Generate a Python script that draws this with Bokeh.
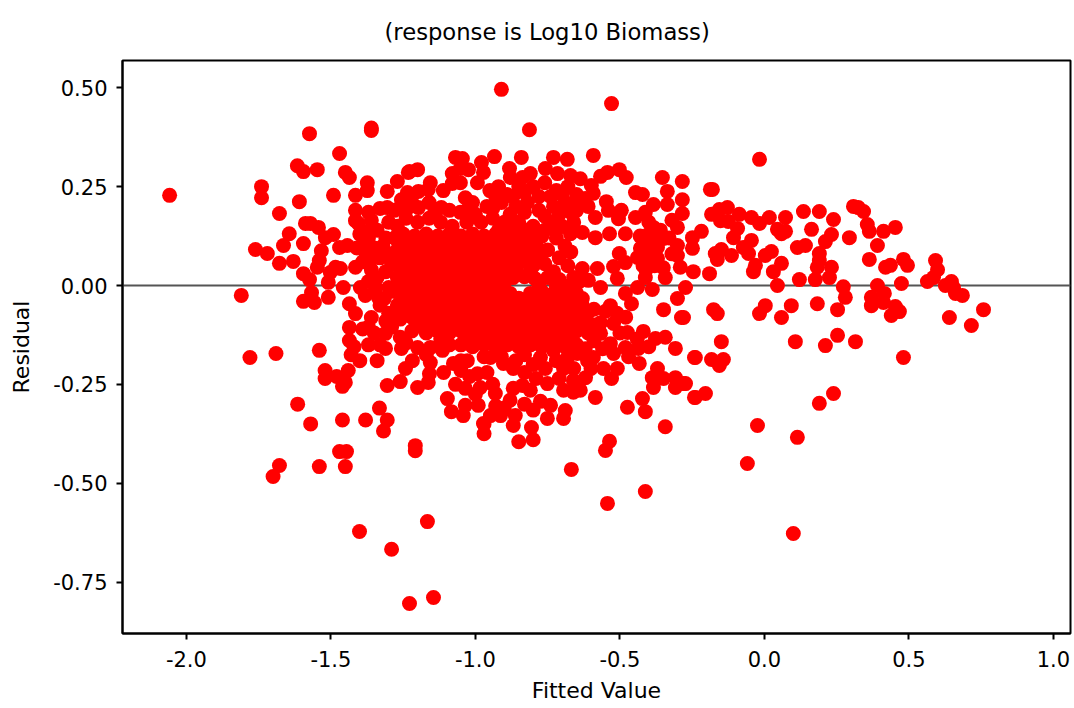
from bokeh.plotting import figure
from bokeh.models import FixedTicker, Span, Range1d
from bokeh.embed import file_html
from bokeh.resources import INLINE

x_ticks = [-2.0, -1.5, -1.0, -0.5, 0.0, 0.5, 1.0]
x_labels = ["-2.0", "-1.5", "-1.0", "-0.5", "0.0", "0.5", "1.0"]
y_ticks = [-0.75, -0.50, -0.25, 0.0, 0.25, 0.50]
y_labels = ["-0.75", "-0.50", "-0.25", "0.00", "0.25", "0.50"]

left_pts = [
(-2.058,0.228),(-1.74,0.25),(-1.74,0.222),(-1.609,0.212),(-1.678,0.182),(-1.574,0.384),(-1.36,0.392),(-1.36,0.398),
(-1.47,0.334),(-1.616,0.303),(-1.595,0.288),(-1.547,0.293),(-1.45,0.286),(-1.436,0.273),(-1.374,0.26),(-1.374,0.24),
(-1.491,0.228),(-1.415,0.228),(-1.27,0.263),(-1.305,0.238),(-1.228,0.288),(-1.2,0.293),(-1.588,0.157),(-1.571,0.157),
(-1.543,0.147),(-1.644,0.131),(-1.595,0.106),(-1.664,0.101),(-1.761,0.091),(-1.72,0.081),(-1.678,0.056),(-1.63,0.061),
(-1.595,0.03),(-1.574,0.015),(-1.81,-0.025),(-1.567,-0.018),(-1.595,-0.04),(-1.557,-0.043),(-1.509,-0.03),(-1.457,-0.005),
(-1.436,-0.046),(-1.415,-0.071),(-1.36,-0.081),(-1.436,-0.106),(-1.436,-0.139),(-1.54,-0.164),(-1.533,0.088),(-1.54,0.063),
(-1.547,0.046),(-1.519,0.121),(-1.491,0.129),(-1.47,0.096),(-1.443,0.101),(-1.484,0.046),(-1.467,0.043),(-1.502,0.033),
(-1.509,0.008),(-1.415,0.19),(-1.415,0.164),(-1.405,0.157),(-1.415,0.046),(-1.398,-0.005),(-1.381,-0.025),(-1.336,-0.03),
(-1.78,-0.182),(-1.69,-0.172),(-1.615,-0.30),(-1.57,-0.35),(-1.52,-0.215),(-1.52,-0.235),(-1.48,-0.23),(-1.45,-0.245),
(-1.46,-0.255),(-1.44,-0.215),(-1.43,-0.175),(-1.46,-0.34),(-1.38,-0.34),(-1.332,-0.31),(-1.305,-0.34),(-1.318,-0.368),
(-1.47,-0.42),(-1.446,-0.42),(-1.45,-0.458),(-1.54,-0.458),(-1.678,-0.455),(-1.70,-0.483),(-1.208,-0.405),(-1.208,-0.418),
(-1.401,-0.622),(-1.166,-0.597),(-1.29,-0.667),(-1.228,-0.804),(-1.145,-0.789),
(-1.40,-0.19),(-1.37,-0.15),(-1.34,-0.19),(-1.42,-0.155),(-1.39,-0.11),(-1.35,-0.12),(-1.33,-0.15),
(-1.40,0.13),(-1.37,0.12),(-1.34,0.14),(-1.31,0.12),(-1.38,0.085),(-1.35,0.095),(-1.41,0.095),(-1.33,0.07),
(-1.39,0.06),(-1.36,0.04),(-1.30,0.08),(-1.34,0.02),(-1.31,0.035),(-1.37,0.01),(-1.30,-0.005),(-1.33,-0.05),(-1.30,-0.07),
(-1.36,0.165),(-1.33,0.195),(-1.30,0.16),(-1.28,0.19),
(-1.385,0.105),(-1.355,0.07),(-1.32,0.10),(-1.29,0.055),(-1.345,-0.005),(-1.31,-0.09),(-1.29,-0.105),(-1.37,-0.105),(-1.395,0.14),(-1.37,0.185),(-1.355,0.145),
]
top_pts = [
(-1.069,0.324),(-1.045,0.321),(-0.934,0.326),(-0.841,0.324),(-0.73,0.324),(-0.682,0.319),(-0.592,0.329),(-1.232,0.286),
(-1.305,0.197),(-1.253,0.195),(-1.256,0.217),(-1.235,0.235),(-1.197,0.238),(-1.156,0.26),(-1.163,0.243),(-1.111,0.24),
(-1.08,0.283),(-1.052,0.296),(-1.024,0.293),(-1.08,0.258),(-1.052,0.26),(-0.979,0.311),(-0.972,0.286),(-0.993,0.26),
(-1.035,0.222),(-1.052,0.185),(-1.118,0.197),(-1.197,0.197),(-0.882,0.296),(-0.879,0.273),(-0.837,0.273),(-0.81,0.283),
(-0.758,0.296),(-0.716,0.283),(-0.671,0.278),(-0.637,0.27),(-0.599,0.253),(-0.592,0.233),(-0.567,0.276),(-0.543,0.286),
(-0.502,0.293),(-0.478,0.273),(-0.353,0.273),(-0.284,0.263),(-0.336,0.238),(-0.284,0.217),(-0.446,0.235),(-0.422,0.23),
(-0.384,0.205),(-0.336,0.205),(-0.284,0.182),(-0.547,0.212),(-0.54,0.19),(-0.495,0.19),(-0.505,0.169),(-0.446,0.172),
(-0.412,0.185),(-0.585,0.172),(-0.585,0.121),(-0.536,0.131),(-0.481,0.131),(-0.63,0.134),(-0.671,0.131),(-0.384,0.147),
(-0.349,0.119),(-0.429,0.094),(-0.37,0.096),(-0.439,0.071),(-0.37,0.068),(-0.301,0.101),(-0.249,0.094),(-0.301,0.147),
(-0.249,0.121),(-0.301,0.076),(-0.291,0.046),(-0.246,0.035),(-0.343,0.02),(-0.412,0.02),(-0.522,0.048),(-0.502,0.081),
(-0.481,0.058),(-0.509,0.018),(-0.63,0.043),(-0.578,0.043),(-0.439,-0.005),(-0.388,-0.01),(-0.273,-0.005),(-0.481,-0.02),
(-0.46,-0.046),(-0.301,-0.033),(-0.349,-0.061),(-0.287,-0.081),(-0.91,0.496),(-0.529,0.46),(-0.813,0.394),
(-0.40,0.13),(-0.41,0.10),(-0.385,0.12),(-0.43,0.125),(-0.40,0.07),(-0.42,0.05),(-0.38,0.08),(-0.33,0.12),(-0.32,0.165),
(-0.95,0.24),(-0.92,0.25),(-0.89,0.23),(-0.85,0.25),(-0.80,0.25),(-0.76,0.26),(-0.72,0.24),(-0.68,0.25),(-0.65,0.23),(-0.62,0.22),
(-0.96,0.20),(-0.91,0.21),(-0.86,0.20),(-0.82,0.21),(-0.78,0.19),(-0.73,0.20),(-0.69,0.21),(-0.65,0.19),(-0.61,0.20),
(-0.98,0.16),(-0.94,0.17),(-0.90,0.16),(-0.85,0.16),(-0.80,0.15),(-0.74,0.16),(-0.70,0.15),(-0.66,0.16),
(-0.72,0.12),(-0.69,0.10),(-0.67,0.085),(-0.71,0.07),(-0.68,0.05),(-0.66,0.02),(-0.64,0.01),
(-0.93,0.225),(-0.87,0.225),(-0.83,0.235),(-0.78,0.225),(-0.74,0.225),(-0.70,0.23),(-0.66,0.21),(-0.63,0.205),
(-0.94,0.195),(-0.88,0.18),(-0.83,0.185),(-0.76,0.175),(-0.71,0.18),(-0.67,0.185),(-0.92,0.14),(-0.87,0.145),(-0.82,0.14),(-0.76,0.14),(-0.72,0.14),
(-1.01,0.21),(-1.0,0.18),(-1.03,0.19),(-1.09,0.19),(-1.16,0.21),(-1.22,0.21),(-1.24,0.19),(-1.14,0.19),
(-0.40,0.16),(-0.36,0.14),(-0.41,0.04),(-0.38,0.05),(-0.35,0.045),(-0.32,0.08),
]
core_pts = [
(-1.27,0.15),(-1.24,0.17),(-1.20,0.16),(-1.16,0.17),(-1.12,0.16),(-1.08,0.15),(-1.03,0.16),
(-1.28,0.12),(-1.25,0.13),(-1.21,0.125),(-1.17,0.13),(-1.13,0.125),(-1.09,0.13),(-1.05,0.125),(-1.01,0.13),(-0.97,0.125),(-0.93,0.13),(-0.89,0.125),(-0.85,0.13),(-0.81,0.12),(-0.77,0.125),
(-1.27,0.09),(-1.23,0.095),(-1.19,0.09),(-1.15,0.095),(-1.11,0.09),(-1.07,0.095),(-1.03,0.09),(-0.99,0.095),(-0.95,0.09),(-0.91,0.095),(-0.87,0.09),(-0.83,0.095),(-0.79,0.085),(-0.75,0.09),
(-1.28,0.055),(-1.24,0.06),(-1.20,0.055),(-1.16,0.06),(-1.12,0.055),(-1.08,0.06),(-1.04,0.055),(-1.00,0.06),(-0.96,0.055),(-0.92,0.06),(-0.88,0.055),(-0.84,0.06),(-0.80,0.05),(-0.76,0.055),
(-1.27,0.02),(-1.23,0.025),(-1.19,0.02),(-1.15,0.025),(-1.11,0.02),(-1.07,0.025),(-1.03,0.02),(-0.99,0.025),(-0.95,0.02),(-0.91,0.025),(-0.87,0.02),(-0.75,0.02),(-0.71,0.015),
(-0.83,0.022),(-0.795,0.018),(-0.81,0.035),
(-1.28,-0.015),(-1.24,-0.01),(-1.20,-0.015),(-1.16,-0.01),(-1.12,-0.015),(-1.08,-0.01),(-1.04,-0.015),(-1.00,-0.01),(-0.96,-0.015),(-0.92,-0.01),(-0.88,-0.02),(-0.81,-0.02),(-0.77,-0.015),(-0.73,-0.02),(-0.69,-0.015),(-0.65,-0.02),
(-1.27,-0.05),(-1.23,-0.045),(-1.19,-0.05),(-1.15,-0.045),(-1.11,-0.05),(-1.07,-0.045),(-1.03,-0.05),(-0.99,-0.045),(-0.95,-0.05),(-0.91,-0.045),(-0.87,-0.05),(-0.83,-0.045),(-0.79,-0.05),(-0.75,-0.045),(-0.71,-0.05),(-0.67,-0.045),(-0.63,-0.05),(-0.59,-0.06),
(-1.26,-0.085),(-1.22,-0.08),(-1.18,-0.085),(-1.14,-0.08),(-1.10,-0.085),(-1.06,-0.08),(-1.02,-0.085),(-0.98,-0.08),(-0.94,-0.085),(-0.90,-0.08),(-0.86,-0.085),(-0.82,-0.08),(-0.78,-0.085),(-0.74,-0.08),(-0.70,-0.085),(-0.66,-0.08),(-0.62,-0.085),
(-1.22,-0.115),(-1.17,-0.12),(-1.13,-0.115),(-1.09,-0.12),(-1.05,-0.115),(-1.01,-0.12),(-0.97,-0.115),(-0.93,-0.12),(-0.89,-0.115),(-0.85,-0.12),(-0.81,-0.115),(-0.77,-0.12),(-0.73,-0.115),(-0.69,-0.12),(-0.65,-0.115),(-0.61,-0.12),
(-1.05,-0.15),(-1.01,-0.155),(-0.97,-0.15),(-0.93,-0.155),(-0.89,-0.15),(-0.85,-0.155),(-0.81,-0.15),(-0.77,-0.155),(-0.73,-0.15),(-0.69,-0.155),(-0.65,-0.15),
(-1.02,-0.23),(-0.96,-0.22),(-0.94,-0.25),(-1.05,-0.19),(-0.97,-0.18),(-0.91,-0.18),
(-1.25,0.11),(-1.19,0.11),(-1.15,0.112),(-1.11,0.108),(-1.07,0.112),(-1.03,0.108),(-0.99,0.112),(-0.95,0.108),(-0.91,0.112),(-0.87,0.108),(-0.83,0.11),(-0.79,0.105),
(-1.26,0.075),(-1.22,0.078),(-1.18,0.072),(-1.14,0.078),(-1.10,0.072),(-1.06,0.078),(-1.02,0.072),(-0.98,0.078),(-0.94,0.072),(-0.90,0.078),(-0.86,0.072),(-0.82,0.078),(-0.78,0.07),
(-1.26,0.04),(-1.22,0.042),(-1.18,0.038),(-1.14,0.042),(-1.10,0.038),(-1.06,0.042),(-1.02,0.038),(-0.98,0.042),(-0.94,0.038),(-0.90,0.042),(-0.86,0.038),(-0.73,0.035),
(-1.26,0.005),(-1.22,0.008),(-1.18,0.002),(-1.14,0.008),(-1.10,0.002),(-1.06,0.008),(-1.02,0.002),(-0.98,0.008),(-0.94,0.002),(-0.90,0.006),(-0.78,-0.002),(-0.72,0.0),(-0.68,-0.002),
(-1.25,-0.03),(-1.21,-0.028),(-1.17,-0.032),(-1.13,-0.028),(-1.09,-0.032),(-1.05,-0.028),(-1.01,-0.032),(-0.97,-0.028),(-0.93,-0.032),(-0.89,-0.035),(-0.85,-0.032),(-0.79,-0.032),(-0.75,-0.03),(-0.71,-0.033),(-0.67,-0.03),(-0.63,-0.033),
(-1.25,-0.065),(-1.21,-0.062),(-1.17,-0.068),(-1.13,-0.062),(-1.09,-0.068),(-1.05,-0.062),(-1.01,-0.068),(-0.97,-0.062),(-0.93,-0.068),(-0.89,-0.062),(-0.85,-0.068),(-0.81,-0.062),(-0.77,-0.068),(-0.73,-0.062),(-0.69,-0.068),(-0.65,-0.062),(-0.61,-0.068),
(-1.20,-0.10),(-1.16,-0.098),(-1.12,-0.102),(-1.08,-0.098),(-1.04,-0.102),(-1.00,-0.098),(-0.96,-0.102),(-0.92,-0.098),(-0.88,-0.102),(-0.84,-0.098),(-0.80,-0.102),(-0.76,-0.098),(-0.72,-0.102),(-0.68,-0.098),(-0.64,-0.102),
(-1.03,-0.135),(-0.99,-0.135),(-0.95,-0.135),(-0.91,-0.135),(-0.87,-0.135),(-0.83,-0.135),(-0.79,-0.135),(-0.75,-0.135),(-0.71,-0.135),(-0.67,-0.135),
]
low_pts = [
(-0.419,-0.116),(-0.377,-0.134),(-0.343,-0.131),(-0.308,-0.159),(-0.242,-0.182),(-0.436,-0.159),(-0.481,-0.157),(-0.522,-0.096),
(-0.474,-0.119),(-0.533,-0.051),(-0.567,-0.005),(-0.609,0.013),(-0.567,-0.094),(-0.567,-0.121),(-0.533,-0.147),(-0.522,-0.172),
(-0.433,-0.197),(-0.509,-0.21),(-0.557,-0.21),(-0.529,-0.235),(-0.37,-0.21),(-0.388,-0.233),(-0.349,-0.235),(-0.308,-0.233),
(-0.308,-0.258),(-0.28,-0.248),(-0.384,-0.258),(-0.242,-0.283),(-0.585,-0.283),(-0.422,-0.286),(-0.474,-0.308),(-0.412,-0.319),
(-0.343,-0.357),(-0.689,-0.316),(-0.695,-0.336),(-0.751,-0.336),(-0.806,-0.359),(-0.869,-0.354),(-0.862,-0.329),(-0.913,-0.329),
(-0.948,-0.329),(-0.972,-0.349),(-1.042,-0.329),(-1.083,-0.319),(-1.097,-0.286),(-1.035,-0.303),(-0.99,-0.303),(-0.931,-0.273),
(-0.983,-0.258),(-1.035,-0.26),(-1.069,-0.25),(-1.2,-0.258),(-1.163,-0.245),(-1.159,-0.223),(-1.26,-0.243),(-1.305,-0.253),
(-1.242,-0.21),(-1.218,-0.19),(-1.156,-0.195),(-1.114,-0.164),(-1.076,-0.197),(-1.028,-0.19),(-0.993,-0.223),(-0.948,-0.182),
(-0.903,-0.197),(-0.869,-0.21),(-0.758,-0.21),(-0.695,-0.21),(-0.751,-0.248),(-0.837,-0.253),(-0.869,-0.26),(-0.81,-0.265),
(-0.775,-0.293),(-0.74,-0.303),(-0.695,-0.265),(-0.661,-0.27),(-0.637,-0.265),(-0.661,-0.24),(-0.619,-0.233),(-0.612,-0.19),
(-0.647,-0.172),(-0.592,-0.182),(-0.73,-0.164),(-0.775,-0.182),(-1.311,-0.159),(-1.256,-0.159),(-1.2,-0.157),(-1.156,-0.157),
(-1.311,-0.121),(-1.26,-0.131),(-1.277,-0.076),(-1.315,-0.033),(-0.543,-0.551),(-0.412,-0.521),(-0.668,-0.465),(-0.536,-0.394),
(-0.55,-0.417),(-0.059,-0.45),(-0.024,-0.354),(0.114,-0.384),(0.10,-0.627),(-0.97,-0.375),(-0.97,-0.35),(-0.88,-0.29),
(-0.83,-0.175),(-0.86,-0.19),(-0.80,-0.20),(-0.72,-0.19),(-0.68,-0.18),(-0.66,-0.21),(-0.62,-0.16),(-0.59,-0.14),(-0.60,-0.21),(-0.56,-0.16),
(-0.50,-0.12),(-0.47,-0.18),(-0.44,-0.135),(-0.40,-0.155),(-0.59,-0.10),(-0.55,-0.065),(-0.51,-0.07),(-0.48,-0.08),
(-0.83,-0.22),(-0.79,-0.235),(-0.71,-0.235),(-1.12,-0.135),(-1.17,-0.175),(-1.09,-0.15),(-1.24,-0.145),(-1.05,-0.215),(-1.11,-0.22),
(-1.0,-0.275),(-0.90,-0.31),(-0.93,-0.305),(-0.80,-0.315),(-0.83,-0.30),
(-0.80,-0.39),(-0.85,-0.395),
]
right_pts = [
(-0.017,0.319),(-0.187,0.243),(-0.18,0.243),(-0.183,0.18),(-0.156,0.192),(-0.128,0.197),(-0.152,0.164),(-0.125,0.162),
(-0.087,0.18),(-0.093,0.144),(-0.107,0.121),(-0.045,0.172),(-0.017,0.157),(0.017,0.172),(0.073,0.172),(0.135,0.187),
(0.19,0.187),(0.239,0.167),(0.308,0.2),(0.325,0.197),(0.343,0.187),(0.356,0.154),(0.363,0.137),(0.412,0.137),(0.453,0.147),
(0.163,0.142),(0.045,0.142),(0.073,0.137),(0.059,0.131),(0.294,0.121),(0.232,0.129),(0.211,0.111),(0.142,0.101),(0.114,0.096),
(0.391,0.101),(0.19,0.081),(0.19,0.063),(0.183,0.046),(0.232,0.046),(0.225,0.02),(0.176,0.015),(0.121,0.015),(0.363,0.066),
(0.419,0.046),(0.436,0.051),(0.481,0.066),(0.495,0.051),(0.592,0.063),(0.599,0.04),(0.585,0.02),(0.564,0.01),(0.474,0.005),
(0.391,0.0),(0.273,-0.003),(0.28,-0.03),(0.37,-0.03),(0.415,-0.02),(0.412,-0.043),(0.37,-0.051),(0.453,-0.053),(0.467,-0.066),
(0.439,-0.076),(0.253,-0.061),(0.183,-0.046),(0.093,-0.051),(0.059,-0.081),(0.003,-0.051),(-0.017,-0.071),(-0.176,-0.061),
(-0.163,-0.071),(-0.28,-0.081),(0.647,0.01),(0.626,0.0),(0.654,-0.005),(0.661,-0.02),(0.685,-0.025),(0.758,-0.061),(0.64,-0.081),
(0.716,-0.101),(0.481,-0.182),(0.045,0.0),(0.031,0.035),(0.059,0.056),(-0.038,0.035),(-0.031,0.051),(0.003,0.076),(0.024,0.086),
(-0.045,0.114),(-0.073,0.096),(-0.055,0.081),(-0.114,0.076),(-0.149,0.091),(-0.17,0.081),(-0.163,0.066),(-0.19,0.03),(-0.218,0.137),
(-0.149,-0.142),(0.107,-0.142),(0.211,-0.152),(0.253,-0.126),(0.315,-0.142),(-0.239,-0.182),(-0.183,-0.187),(-0.156,-0.202),
(-0.142,-0.187),(-0.273,-0.248),(-0.239,-0.283),(-0.204,-0.273),(0.19,-0.298),(0.239,-0.273),
]

points = left_pts + top_pts + core_pts + low_pts + right_pts
fitted = [pt[0] for pt in points]
residual = [pt[1] for pt in points]

p = figure(width=1074, height=708, output_backend="svg", toolbar_location=None,
           x_range=Range1d(-2.221, 1.059), y_range=Range1d(-0.880, 0.569),
           min_border_left=122, min_border_right=4, min_border_top=60, min_border_bottom=75,
           background_fill_color="white", border_fill_color="white")
p.grid.visible = False
p.outline_line_color = "black"
p.outline_line_width = 2

p.title.text = "(response is Log10 Biomass)"
p.title.text_font = "DejaVu Sans"
p.title.text_font_size = "22.7px"
p.title.text_font_style = "normal"
p.title.text_color = "black"
p.title.align = "left"
p.title.offset = 262
p.title.standoff = 31

for ax, ticks, labels, name in ((p.xaxis, x_ticks, x_labels, "Fitted Value"),
                                (p.yaxis, y_ticks, y_labels, "Residual")):
    ax.ticker = FixedTicker(ticks=ticks)
    ax.major_label_overrides = dict(zip(ticks, labels))
    ax.axis_label = name
    ax.axis_label_text_font = "DejaVu Sans"
    ax.axis_label_text_font_size = "22px"
    ax.axis_label_text_font_style = "normal"
    ax.axis_label_text_color = "black"
    ax.major_label_text_font = "DejaVu Sans"
    ax.major_label_text_font_size = "21px"
    ax.major_label_text_color = "black"
    ax.axis_line_color = "black"
    ax.axis_line_width = 2
    ax.major_tick_line_color = "black"
    ax.major_tick_line_width = 2
    ax.major_tick_out = 6
    ax.major_tick_in = 0
    ax.minor_tick_line_color = None

p.xaxis.major_label_standoff = 11
p.xaxis.axis_label_standoff = 8
p.yaxis.major_label_standoff = 9
p.yaxis.axis_label_standoff = 16

p.add_layout(Span(location=0, dimension="width", line_color="#555555", line_width=2, level="underlay"))
p.scatter(fitted, residual, size=15, marker="circle", fill_color="#ff0000", line_color=None)

open("out.html", "w").write(file_html(p, INLINE))
